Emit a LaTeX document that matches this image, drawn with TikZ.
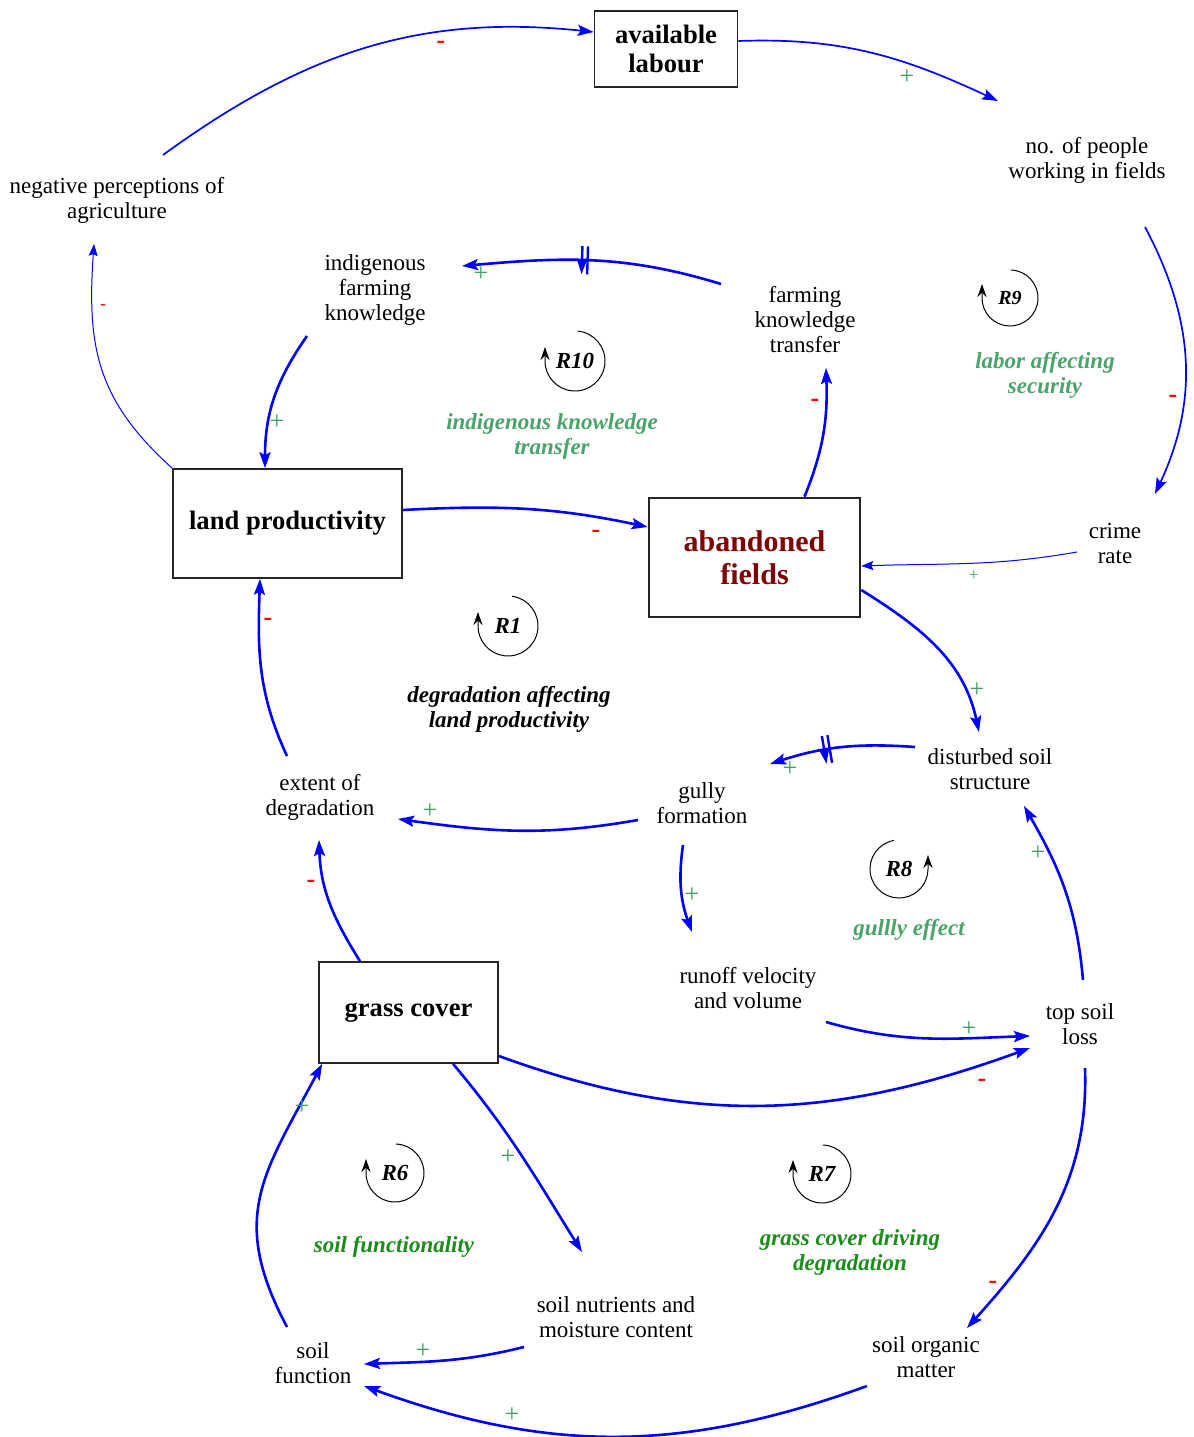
\documentclass[tikz,border=0pt]{standalone}
\usepackage{fontspec}
\setmainfont{Liberation Serif}
\usetikzlibrary{arrows.meta, decorations.markings}
\definecolor{linkblue}{HTML}{0000FF}
\definecolor{polgreen}{HTML}{3FA060}
\definecolor{loopgreen}{HTML}{4AA46A}
\definecolor{deepgreen}{HTML}{1A8C1A}
\definecolor{polred}{HTML}{FF0000}
\definecolor{stockred}{HTML}{800000}

\begin{document}
\begin{tikzpicture}[x=0.5pt, y=0.5pt,
  >={Stealth[length=8pt, width=5.5pt, inset=1.5pt]},
  var/.style={align=center, inner sep=0pt, yshift=-1pt, font=\fontsize{11.5}{12.5}\selectfont},
  stock/.style={draw=black!85, line width=0.8pt, align=center, inner sep=0pt,
    font=\bfseries\fontsize{13.3}{14.5}\selectfont},
  link/.style={draw=linkblue, line width=1.3pt, ->},
  midlink/.style={link, line width=0.85pt},
  thinlink/.style={draw=linkblue, line width=0.5pt, -{Stealth[length=6pt, width=4.5pt, inset=1pt]}},
  delaymark/.style={postaction={decorate, decoration={markings, mark=at position #1 with
    {\draw[linkblue, line width=1.2pt] (-2.8,-14) -- (-2.8,14) (2.8,-14) -- (2.8,14);}}}},
  polplus/.style={text=polgreen, inner sep=0pt, font=\fontsize{13}{13}\selectfont},
  polminus/.style={text=polred, inner sep=0pt, font=\bfseries\fontsize{13}{13}\selectfont},
  loopname/.style={inner sep=0pt, font=\bfseries\itshape\fontsize{11.5}{12}\selectfont},
  looparc/.style={black, line width=0.5pt, -{Stealth[length=6.5pt, width=4.5pt]}},
  looptext/.style={align=center, inner sep=0pt, yshift=-1pt, font=\bfseries\itshape\fontsize{11.5}{12.5}\selectfont}]

\useasboundingbox (0,0) rectangle (1194,1437);

% Stocks
\node[stock, minimum width=71.5pt, minimum height=38pt] (avail) at (666,1388) {available\\labour};
\node[stock, minimum width=114.5pt, minimum height=54.5pt] (landp) at (287.5,913.5) {land productivity};
\node[stock, line width=1.3pt, text=stockred, font=\bfseries\fontsize{15}{16.5}\selectfont,
      minimum width=105.5pt, minimum height=59.5pt] (aband) at (754.5,879.5) {abandoned\\fields};
\node[stock, minimum width=89.5pt, minimum height=50.5pt] (grass) at (408.5,424.5) {grass cover};

% Variables
\node[var] (people) at (1087,1279) {no. of people\\working in fields};
\node[var] (nperc) at (117,1239) {negative perceptions of\\agriculture};
\node[var] (indig) at (375,1149) {indigenous\\farming\\knowledge};
\node[var] (fktrans) at (805,1119) {farming\\knowledge\\transfer};
\node[var] (crime) at (1115,895) {crime\\rate};
\node[var] (dss) at (990,670) {disturbed soil\\structure};
\node[var] (gully) at (702,636) {gully\\formation};
\node[var] (extent) at (320,642) {extent of\\degradation};
\node[var] (runoff) at (748,451) {runoff velocity\\and volume};
\node[var] (topsoil) at (1080,415) {top soil\\loss};
\node[var] (nutr) at (616,122) {soil nutrients and\\moisture content};
\node[var] (sfunc) at (313,76) {soil\\function};
\node[var] (som) at (926,82) {soil organic\\matter};

% Links
\draw[midlink] ([shift={(46,45)}]nperc.center) to[out=36, in=174] ([shift={(0,17)}]avail.west);
\draw[midlink] ([shift={(0,8)}]avail.east) to[out=2, in=155] ([shift={(-89,59)}]people.center);
\draw[midlink] ([shift={(58,-67)}]people.center) to[out=-62, in=65] ([shift={(40,50)}]crime.center);
\draw[thinlink] ([shift={(-38,-8)}]crime.center) to[out=190, in=2] ([shift={(0,-8.5)}]aband.east);
\draw[link, delaymark=0.53] ([shift={(-84,36)}]fktrans.center) to[out=163, in=5] ([shift={(87,24)}]indig.center);
\draw[link] ([shift={(50,0)}]aband.north) to[out=68, in=-88] ([shift={(21,-48)}]fktrans.center);
\draw[link] ([shift={(-68,-46)}]indig.center) to[out=235, in=90] ([shift={(-22.5,0)}]landp.north);
\draw[link] ([shift={(0,13.5)}]landp.east) to[out=3, in=168] ([shift={(0,30.5)}]aband.west);
\draw[thinlink] (landp.north west) to[out=138, in=-94, looseness=1.1] ([shift={(-23,-44)}]nperc.center);
\draw[link] ([shift={(0,-32.5)}]aband.east) to[out=-32, in=102] ([shift={(-11,37)}]dss.center);
\draw[link, delaymark=0.6] ([shift={(-75,22)}]dss.center) to[out=176, in=18] ([shift={(68,39)}]gully.center);
\draw[link] ([shift={(-64,-17)}]gully.center) to[out=190, in=-8] ([shift={(78,-22)}]extent.center);
\draw[link] ([shift={(-33,41)}]extent.center) to[out=115, in=-92] ([shift={(-27.5,0)}]landp.south);
\draw[link] ([shift={(-19,-42)}]gully.center) to[out=-98, in=110] ([shift={(-56,56)}]runoff.center);
\draw[link] ([shift={(78,-34)}]runoff.center) to[out=-16, in=182] ([shift={(-50,-12)}]topsoil.center);
\draw[link] ([shift={(3,44)}]topsoil.center) to[out=95, in=-60] ([shift={(34,-37)}]dss.center);
\draw[link] ([shift={(-48.5,0)}]grass.north) to[out=122, in=-88] ([shift={(-1,-43)}]extent.center);
\draw[link] ([shift={(0,-43.5)}]grass.east) to[out=-20, in=200] ([shift={(-50,-24)}]topsoil.center);
\draw[link] ([shift={(5,-44)}]topsoil.center) to[out=-88, in=48] ([shift={(41,29)}]som.center);
\draw[link] ([shift={(44.5,0)}]grass.south) to[out=-50, in=122] ([shift={(-34,65)}]nutr.center);
\draw[link] ([shift={(-92,-30)}]nutr.center) to[out=194, in=2] ([shift={(51,-1)}]sfunc.center);
\draw[link] ([shift={(-59,-29)}]som.center) to[out=200, in=-20] ([shift={(51,-23)}]sfunc.center);
\draw[link] ([shift={(-26,36)}]sfunc.center) to[out=118, in=-118, looseness=1.2] ([shift={(4,0)}]grass.south west);

% Polarities
\node[polminus] (p1) at (441,1392) {-};
\node[polplus] (p2) at (907,1360) {+};
\node[polminus] (p3) at (1173,1038) {-};
\node[polplus, font=\fontsize{8.5}{8.5}\selectfont] (p4) at (974,861) {+};
\node[polplus] (p5) at (481,1163) {+};
\node[polminus] (p6) at (815,1034) {-};
\node[polplus] (p7) at (277,1015) {+};
\node[polminus] (p8) at (596,903) {-};
\node[polminus, font=\fontsize{9}{9}\selectfont] (p9) at (103,1130) {-};
\node[polplus] (p10) at (977,747) {+};
\node[polplus] (p11) at (790,668) {+};
\node[polplus] (p12) at (430,626) {+};
\node[polminus] (p13) at (268,815) {-};
\node[polplus] (p14) at (692,542) {+};
\node[polplus] (p15) at (969,408) {+};
\node[polplus] (p16) at (1038,584) {+};
\node[polminus] (p17) at (311,553) {-};
\node[polminus] (p18) at (982,354) {-};
\node[polminus] (p19) at (993,152) {-};
\node[polplus] (p20) at (508,280) {+};
\node[polplus] (p21) at (423,86) {+};
\node[polplus] (p22) at (512,22) {+};
\node[polplus] (p23) at (302,330) {+};

% Loops
\node[loopname] (r10) at (575,1076) {R10};
\draw[looparc] ([shift={(85:30)}]r10.center) arc[start angle=85, end angle=-180, radius=30] -- ++(0,14);
\node[looptext, text=loopgreen] (l10) at (552,1003) {indigenous knowledge\\transfer};

\node[loopname, font=\bfseries\itshape\fontsize{10}{11}\selectfont] (r9) at (1010,1139) {R9};
\draw[looparc] ([shift={(88:28)}]r9.center) arc[start angle=88, end angle=-180, radius=28] -- ++(0,14);
\node[looptext, text=loopgreen] (l9) at (1045,1064) {labor affecting\\security};

\node[loopname] (r1) at (508,811) {R1};
\draw[looparc] ([shift={(82:30)}]r1.center) arc[start angle=82, end angle=-180, radius=30] -- ++(0,14);
\node[looptext] (l1) at (509,730) {degradation affecting\\land productivity};

\node[loopname] (r8) at (899,568) {R8};
\draw[looparc] ([shift={(100:29)}]r8.center) arc[start angle=100, end angle=360, radius=29] -- ++(0,14);
\node[looptext, text=loopgreen] (l8) at (909,509) {gullly effect};

\node[loopname] (r6) at (395,264) {R6};
\draw[looparc] ([shift={(88:29)}]r6.center) arc[start angle=88, end angle=-180, radius=29] -- ++(0,14);
\node[looptext, text=deepgreen] (l6) at (394,192) {soil functionality};

\node[loopname] (r7) at (822,263) {R7};
\draw[looparc] ([shift={(88:29)}]r7.center) arc[start angle=88, end angle=-180, radius=29] -- ++(0,14);
\node[looptext, text=deepgreen] (l7) at (850,187) {grass cover driving\\degradation};

\end{tikzpicture}
\end{document}
